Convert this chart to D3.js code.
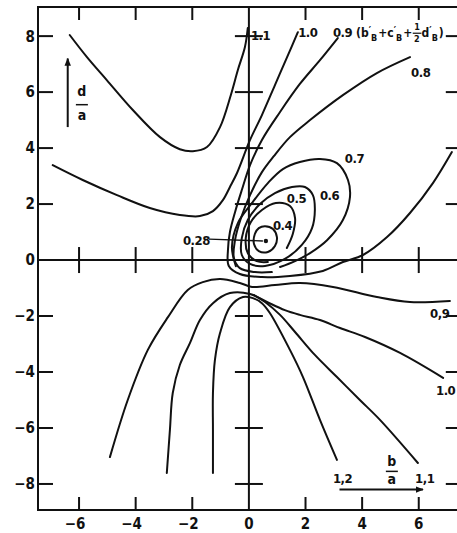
<!DOCTYPE html>
<meta charset="utf-8">
<style>
  html, body {
    margin: 0;
    background: #fff;
  }
  svg { display: block; }
  .frame, .tick, .axis {
    stroke: #111;
    stroke-width: 2;
    fill: none;
  }
  .contour {
    stroke: #111;
    stroke-width: 2;
    fill: none;
    stroke-linecap: round;
  }
  text {
    font-family: "DejaVu Sans Condensed", "Liberation Sans Narrow", sans-serif;
    font-weight: bold;
    fill: #111;
  }
</style>
<body>
<script src="https://cdnjs.cloudflare.com/ajax/libs/d3/7.8.5/d3.min.js"></script>
<script>
// axis ticks
var xTicks = [-6, -4, -2, 0, 2, 4, 6];
var xTickLabels = ["\u22126", "\u22124", "\u22122", "0", "2", "4", "6"];
var yTicks = [8, 6, 4, 2, 0, -2, -4, -6, -8];
var yTickLabels = ["8", "6", "4", "2", "0", "\u22122", "\u22124", "\u22126", "\u22128"];

// contour lines, [b/a, d/a]
var c11Upper = [[-6.33, 8.04], [-5.72, 7.25], [-5.02, 6.43], [-4.10, 5.36], [-3.14, 4.39], [-2.44, 3.96],
  [-1.98, 3.89], [-1.48, 4.04], [-1.02, 4.75], [-0.64, 5.89], [-0.39, 6.79], [-0.14, 7.61], [-0.04, 8.29]];
var c10Upper = [[-6.93, 3.39], [-5.87, 2.86], [-4.66, 2.32], [-3.50, 1.86], [-2.44, 1.61], [-1.73, 1.57],
  [-1.27, 1.75], [-0.92, 2.14], [-0.67, 2.61], [-0.42, 3.11], [0.04, 4.29], [0.46, 5.18], [0.92, 6.25],
  [1.38, 7.32], [1.73, 8.14]];
var c09Upper = [[3.14, 7.93], [2.51, 7.14], [1.80, 6.29], [1.10, 5.29], [0.46, 4.29], [0.04, 3.39],
  [-0.25, 2.5], [-0.49, 1.71], [-0.67, 1.0], [-0.74, 0.36], [-0.71, -0.21], [-0.32, -0.5], [0.46, -0.61],
  [1.45, -0.57], [2.61, -0.39], [3.32, -0.07], [4.03, 0.18], [4.88, 0.82], [5.69, 1.68], [6.5, 2.75], [7.17, 3.86]];
var c08 = [[5.69, 7.25], [4.52, 6.68], [3.32, 5.89], [2.16, 5.0], [1.45, 4.39], [0.88, 3.71], [0.46, 3.14],
  [0.04, 2.32], [-0.28, 1.5], [-0.49, 0.71], [-0.53, 0.07], [-0.32, -0.29], [0.21, -0.43], [0.81, -0.43]];
var c07 = [[-0.46, -0.22], [-0.6, 0.46], [-0.39, 1.32], [0.11, 2.04], [0.67, 2.75], [1.2, 3.25], [1.8, 3.5],
  [2.51, 3.61], [3.11, 3.46], [3.5, 2.86], [3.57, 2.25], [3.32, 1.43], [2.76, 0.71], [2.16, 0.25],
  [1.63, -0.04], [1.1, -0.25]];
var c06 = [[2.33, 1.79], [2.26, 2.32], [1.98, 2.61], [1.52, 2.61], [0.92, 2.39], [0.39, 2.0], [-0.04, 1.43],
  [-0.25, 0.79], [-0.25, 0.18], [0.04, -0.14], [0.57, -0.21], [1.27, 0.04], [1.87, 0.54], [2.23, 1.14]];
var c05 = [[1.34, 0.43], [1.55, 0.93], [1.63, 1.5], [1.45, 1.93], [0.95, 2.04], [0.46, 1.79], [0.07, 1.36],
  [-0.11, 0.79], [-0.04, 0.25], [0.28, -0.04], [0.67, -0.07]];
var c04 = [[0.57, 1.21], [0.85, 1.11], [0.99, 0.82], [0.92, 0.5], [0.67, 0.29], [0.35, 0.32], [0.18, 0.57],
  [0.21, 0.93], [0.35, 1.14]];
var c09Lower = [[-4.91, -7.04], [-4.28, -5.0], [-3.57, -3.21], [-2.86, -2.04], [-2.16, -1.07], [-1.63, -0.79],
  [-1.02, -0.68], [-0.32, -0.82], [0.11, -0.96], [0.92, -0.89], [1.8, -0.82], [2.97, -0.96], [4.52, -1.32],
  [5.69, -1.5], [7.1, -1.46]];
var c10Lower = [[-2.9, -7.61], [-2.79, -6.07], [-2.69, -4.75], [-2.44, -3.75], [-2.08, -2.96], [-1.73, -2.14],
  [-1.27, -1.54], [-0.67, -1.18], [0.04, -1.21], [0.64, -1.5], [1.27, -1.79], [1.8, -1.96], [2.51, -2.14],
  [3.22, -2.43], [4.1, -2.75], [5.34, -3.32], [6.86, -4.21]];
var c11Lower = [[0.18, -1.25], [0.57, -1.5], [1.1, -1.96], [1.63, -2.57], [2.33, -3.39], [3.11, -4.18],
  [3.92, -5.0], [4.63, -5.71], [5.97, -7.25]];
var c12 = [[-1.27, -7.61], [-1.27, -6.07], [-1.27, -4.75], [-1.2, -3.57], [-1.02, -2.61], [-0.67, -1.68],
  [-0.21, -1.32], [0.14, -1.36], [0.46, -1.54], [0.74, -1.89], [1.45, -3.21], [1.91, -4.18], [2.51, -5.71],
  [3.11, -7.14]];

var contours = [
  {pts: c11Upper}, {pts: c10Upper}, {pts: c09Upper}, {pts: c08}, {pts: c07},
  {pts: c06, closed: true}, {pts: c05}, {pts: c04, closed: true},
  {pts: c09Lower}, {pts: c10Lower}, {pts: c11Lower}, {pts: c12}
];

// minimum of the function
var minPoint = [0.6, 0.68];

var labelText = ["1.1", "1.0", "0.9", "0.8", "0.7", "0.6", "0.5", "0.4", "0.28", "0,9", "1.0", "1,1", "1,2"];
var labelX = [0.07, 1.74, 2.97, 5.73, 3.39, 2.51, 1.34, 0.85, -2.33, 6.4, 6.61, 5.87, 2.97];
var labelY = [7.86, 7.96, 7.96, 6.54, 3.46, 2.14, 2.04, 1.07, 0.54, -2.07, -4.82, -7.96, -7.96];

var width = 457, height = 533;
var x = d3.scaleLinear().domain([-7.45, 7.45]).range([38, 459.8]);
var y = d3.scaleLinear().domain([-8.93, 9.04]).range([510, 7]);

var svg = d3.select("body").append("svg")
  .attr("width", width)
  .attr("height", height);

svg.append("defs").append("marker")
  .attr("id", "arrow")
  .attr("viewBox", "0 0 10 10")
  .attr("refX", 9).attr("refY", 5)
  .attr("markerWidth", 4).attr("markerHeight", 4)
  .attr("orient", "auto")
  .append("path").attr("d", "M0,1L10,5L0,9z").attr("fill", "#111");

var x0 = x.domain()[0], x1 = x.domain()[1], y0 = y.domain()[0], y1 = y.domain()[1];

svg.append("path").attr("class", "frame")
  .attr("d", "M" + x(x1) + "," + y(y1) + "H" + x(x0) + "V" + y(y0) + "H" + x(x1) + "Z");

// center axes
svg.append("line").attr("class", "axis")
  .attr("x1", x(x0)).attr("x2", x(x1)).attr("y1", y(0)).attr("y2", y(0));
svg.append("line").attr("class", "axis")
  .attr("x1", x(0)).attr("x2", x(0)).attr("y1", y(y0)).attr("y2", y(y1));

var g = svg.append("g");
xTicks.filter(function(d) { return d !== 0; }).forEach(function(d) {
  g.append("line").attr("class", "tick").attr("x1", x(d)).attr("x2", x(d)).attr("y1", y(y0)).attr("y2", y(y0) - 13);
  g.append("line").attr("class", "tick").attr("x1", x(d)).attr("x2", x(d)).attr("y1", y(y1)).attr("y2", y(y1) + 13);
  g.append("line").attr("class", "tick").attr("x1", x(d)).attr("x2", x(d)).attr("y1", y(0) - 13).attr("y2", y(0) + 13);
});
yTicks.filter(function(d) { return d !== 0; }).forEach(function(d) {
  g.append("line").attr("class", "tick").attr("x1", x(x0)).attr("x2", x(x0) + 15).attr("y1", y(d)).attr("y2", y(d));
  g.append("line").attr("class", "tick").attr("x1", x(x1)).attr("x2", x(x1) - 14).attr("y1", y(d)).attr("y2", y(d));
  g.append("line").attr("class", "tick").attr("x1", x(0) - 14).attr("x2", x(0) + 14).attr("y1", y(d)).attr("y2", y(d));
});

svg.append("g").selectAll("text")
  .data(xTicks)
  .enter().append("text")
  .attr("x", function(d) { return x(d) - (d < 0 ? 4 : 0); })
  .attr("y", 529)
  .attr("text-anchor", "middle")
  .attr("font-size", 15)
  .text(function(d, i) { return xTickLabels[i]; });

svg.append("g").selectAll("text")
  .data(yTicks)
  .enter().append("text")
  .attr("x", 35)
  .attr("y", function(d) { return y(d); })
  .attr("dy", "0.36em")
  .attr("text-anchor", "end")
  .attr("font-size", 15)
  .text(function(d, i) { return yTickLabels[i]; });

var line = d3.line()
  .x(function(d) { return x(d[0]); })
  .y(function(d) { return y(d[1]); })
  .curve(d3.curveCatmullRom.alpha(0.5));
var closedLine = d3.line()
  .x(function(d) { return x(d[0]); })
  .y(function(d) { return y(d[1]); })
  .curve(d3.curveCatmullRomClosed.alpha(0.5));

svg.append("g").selectAll("path")
  .data(contours)
  .enter().append("path")
  .attr("class", "contour")
  .attr("d", function(d) { return d.closed ? closedLine(d.pts) : line(d.pts); });

svg.append("circle")
  .attr("cx", x(minPoint[0])).attr("cy", y(minPoint[1])).attr("r", 2.2).attr("fill", "#111");
svg.append("line").attr("stroke", "#111").attr("stroke-width", 1.3)
  .attr("x1", x(-1.41)).attr("y1", y(0.75)).attr("x2", x(minPoint[0]) - 3).attr("y2", y(minPoint[1]));

svg.append("g").selectAll("text")
  .data(labelText)
  .enter().append("text")
  .attr("x", function(d, i) { return x(labelX[i]); })
  .attr("y", function(d, i) { return y(labelY[i]); })
  .attr("font-size", 13)
  .attr("letter-spacing", -0.5)
  .text(function(d) { return d; });

// (b'B + c'B + 1/2 d'B) next to the 0.9 label, one text with tspans
var fx = x(2.97) + 23, fy = y(7.96);
var ft = svg.append("text").attr("x", fx).attr("y", fy).attr("font-size", 12);
var parts = [
  ["(b", 0, 0, 12], ["\u2032", 0, -3, 10], ["B", 0, 7, 9],
  ["+c", 1, -4, 12], ["\u2032", 0, -3, 10], ["B", 0, 7, 9],
  ["+", 1, -4, 12], ["1", 2, -7, 9], ["2", -6, 12, 9],
  ["d", 2, -5, 12], ["\u2032", 0, -3, 10], ["B", 0, 7, 9], [")", 1, -4, 12]
];
parts.forEach(function(p) {
  ft.append("tspan").attr("dx", p[1]).attr("dy", p[2]).attr("font-size", p[3]).text(p[0]);
});
var oneIdx = 9;
var p1 = ft.node().getStartPositionOfChar(oneIdx);
var e1 = ft.node().getEndPositionOfChar(oneIdx);
svg.append("line").attr("stroke", "#111").attr("stroke-width", 1.2)
  .attr("x1", p1.x - 1.5).attr("x2", e1.x + 1.5).attr("y1", fy - 4).attr("y2", fy - 4);

// axis name d/a with arrow
svg.append("line").attr("stroke", "#111").attr("stroke-width", 2)
  .attr("x1", x(-6.4)).attr("x2", x(-6.4)).attr("y1", y(4.75)).attr("y2", y(7.2))
  .attr("marker-end", "url(#arrow)");
var da = svg.append("g").attr("font-size", 14).attr("text-anchor", "middle");
da.append("text").attr("x", x(-5.9)).attr("y", y(5.85)).text("d");
da.append("line").attr("stroke", "#111").attr("stroke-width", 1.5)
  .attr("x1", x(-5.9) - 6).attr("x2", x(-5.9) + 6).attr("y1", y(5.55)).attr("y2", y(5.55));
da.append("text").attr("x", x(-5.9)).attr("y", y(5.0)).text("a");

// axis name b/a with arrow
svg.append("line").attr("stroke", "#111").attr("stroke-width", 2)
  .attr("x1", x(3.2)).attr("x2", x(6.15)).attr("y1", y(-8.2)).attr("y2", y(-8.2))
  .attr("marker-end", "url(#arrow)");
var ba = svg.append("g").attr("font-size", 14).attr("text-anchor", "middle");
ba.append("text").attr("x", x(5.05)).attr("y", y(-7.35)).text("b");
ba.append("line").attr("stroke", "#111").attr("stroke-width", 1.5)
  .attr("x1", x(5.05) - 6).attr("x2", x(5.05) + 6).attr("y1", y(-7.55)).attr("y2", y(-7.55));
ba.append("text").attr("x", x(5.05)).attr("y", y(-8.0)).text("a");
</script>
